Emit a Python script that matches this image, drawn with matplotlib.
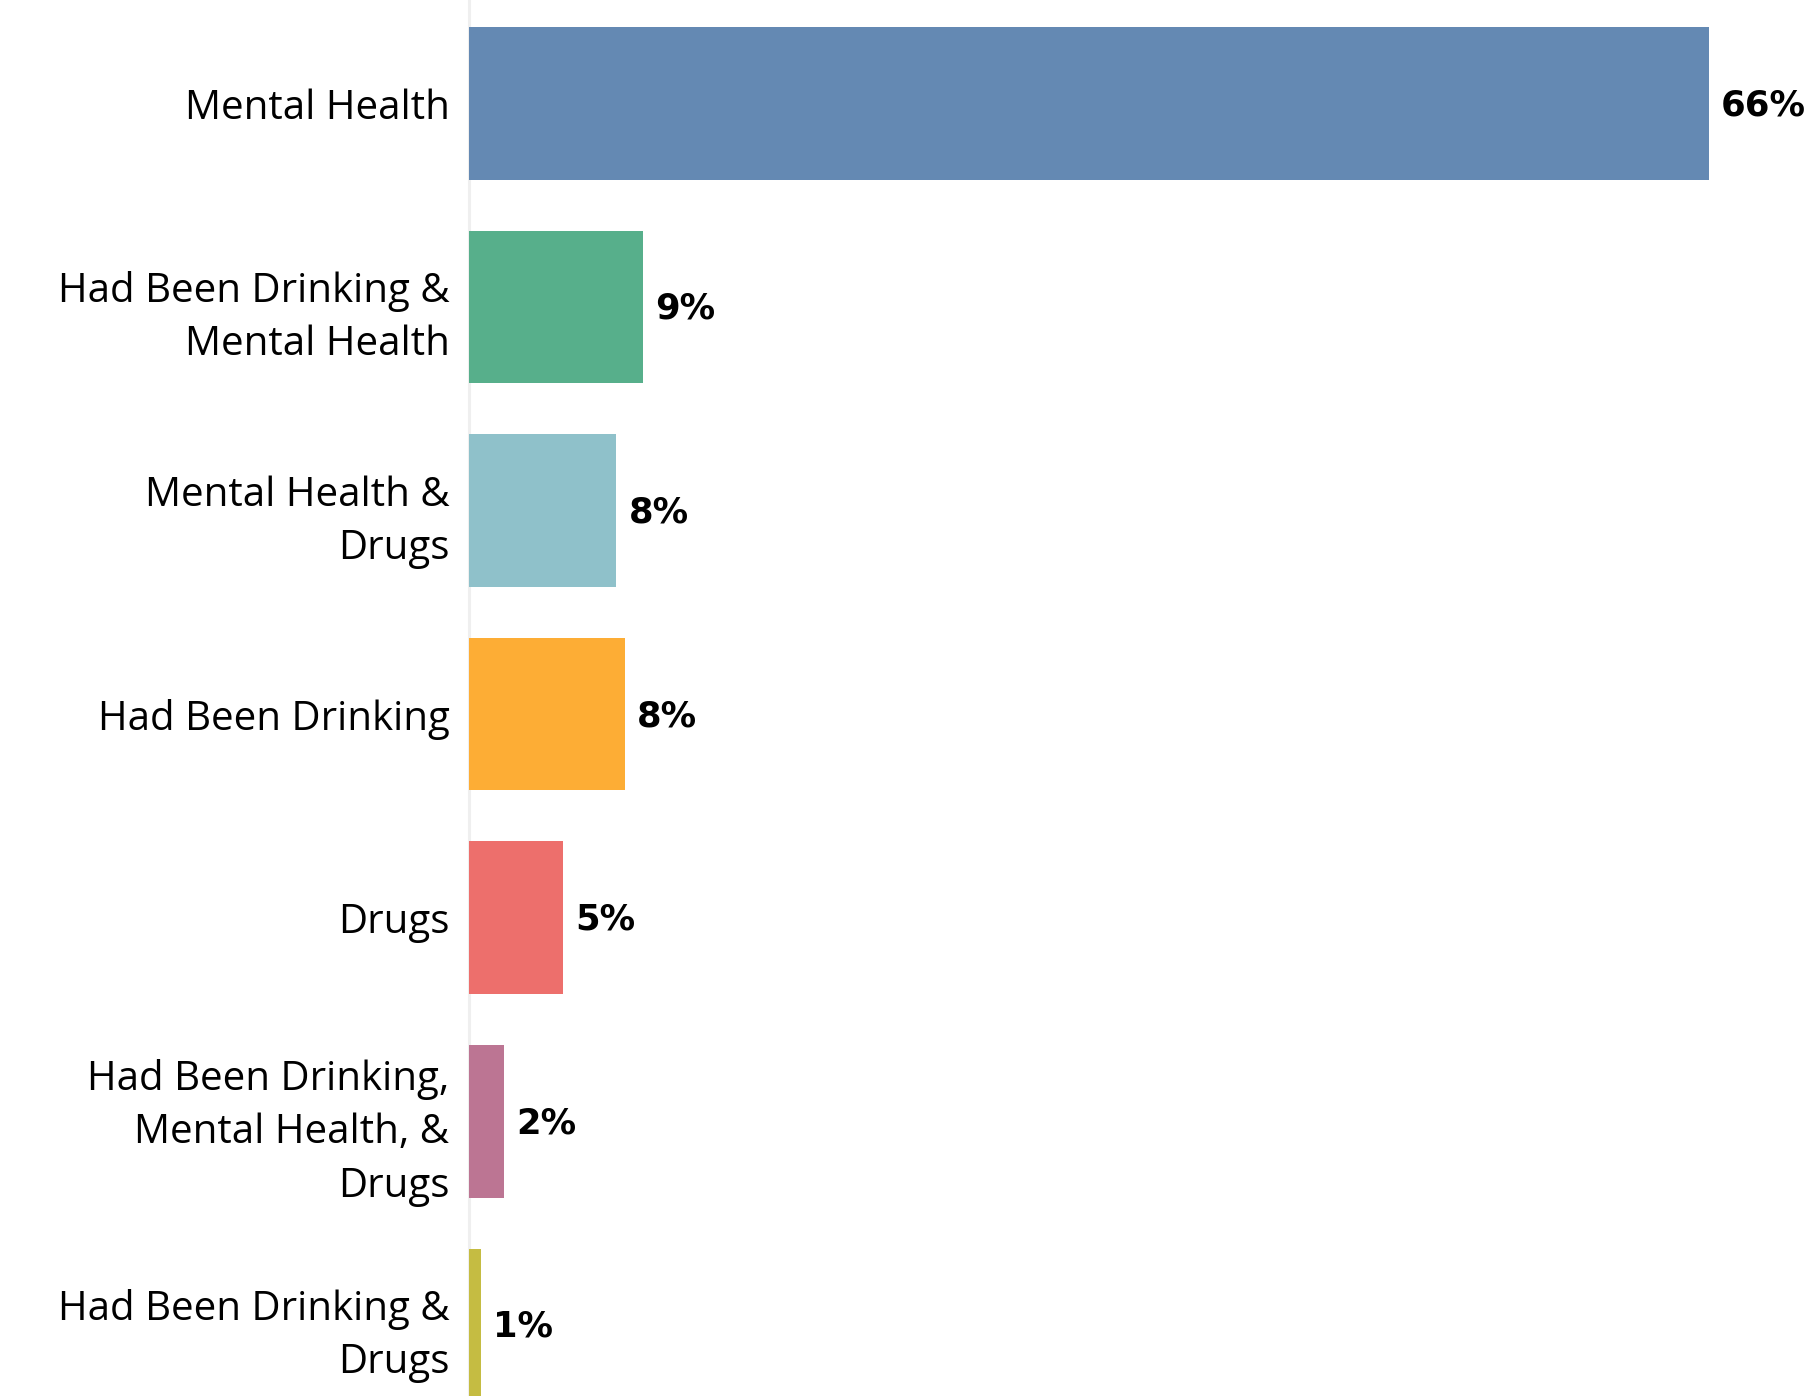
import matplotlib.pyplot as plt

categories = [
    "Mental Health",
    "Had Been Drinking &\nMental Health",
    "Mental Health &\nDrugs",
    "Had Been Drinking",
    "Drugs",
    "Had Been Drinking,\nMental Health, &\nDrugs",
    "Had Been Drinking &\nDrugs",
]
values = [66.0, 9.26, 7.85, 8.28, 5.0, 1.87, 0.64]
colors = ["#6489B3", "#57AF8B", "#8FC1CA", "#FDAD35", "#ED6F6C", "#BC7593", "#C5BC42"]


def main():
    W, H, dpi = 1817, 1396, 100
    fig = plt.figure(figsize=(W / dpi, H / dpi), dpi=dpi)
    left_px = 469
    ax = fig.add_axes([left_px / W, 0, 1 - left_px / W, 1])

    px_per_unit = (1709 - 469) / 66.0
    pitch, first = 203.6, 103.3

    ys = list(range(len(categories)))
    ax.barh(ys, values, height=0.75, color=colors, zorder=2)

    ax.set_xlim(0, (W - left_px) / px_per_unit)
    ax.set_ylim((H - first) / pitch, -first / pitch)

    for y, v in zip(ys, values):
        ax.text(v + 12 / px_per_unit, y + 0.01, f"{round(v):.0f}%", va="center", ha="left",
                fontsize=25.5, fontweight="bold", family="DejaVu Sans", color="black")

    ax.set_yticks(ys)
    ax.set_yticklabels(categories, fontsize=29, family="Open Sans", linespacing=1.42)
    ax.tick_params(axis="y", length=0, pad=14)
    ax.set_xticks([])

    for s in ["top", "right", "bottom"]:
        ax.spines[s].set_visible(False)
    ax.spines["left"].set_color("#efefef")
    ax.spines["left"].set_linewidth(2.2)
    ax.spines["left"].set_zorder(1)

    fig.savefig("out.png", dpi=dpi)


if __name__ == "__main__":
    main()
